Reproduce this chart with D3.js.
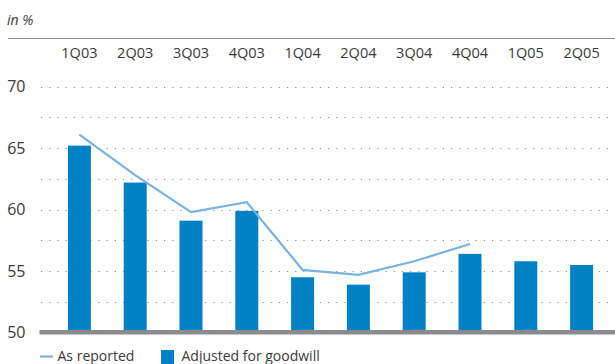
<!DOCTYPE html>
<html>
<head>
<meta charset="utf-8">
<script src="https://cdn.jsdelivr.net/npm/d3@7/dist/d3.min.js"></script>
<style>
  html, body { margin: 0; padding: 0; background: #fff; }
  svg { display: block; font-family: "Open Sans", "Noto Sans", sans-serif; }
</style>
</head>
<body>
<svg id="chart" width="615" height="364"></svg>
<script>
// Quarters shown along the top
const quarters = ["1Q03", "2Q03", "3Q03", "4Q03", "1Q04", "2Q04", "3Q04", "4Q04", "1Q05", "2Q05"];
// Cost/income ratio adjusted for goodwill (bars), in %
const adjusted = [65.2, 62.2, 59.1, 59.9, 54.5, 53.9, 54.9, 56.4, 55.8, 55.5];
// Cost/income ratio as reported (line), in %; available through 4Q04
const reportedQuarters = ["1Q03", "2Q03", "3Q03", "4Q03", "1Q04", "2Q04", "3Q04", "4Q04"];
const reported = [66.1, 62.8, 59.8, 60.6, 55.1, 54.7, 55.8, 57.2];
// Value axis ticks
const yTicks = [50, 55, 60, 65, 70];
const gridTicks = [52.5, 55, 57.5, 60, 62.5, 65, 67.5, 70];

const svg = d3.select("#chart");
const W = 615;

const textColor = "#3a3a3a";
const barColor = "#0081c6";
const lineColor = "#7ab3e0";

const y = d3.scaleLinear().domain([50, 70]).range([332.6, 86.6]);

// Bar positions
const x = d3.scaleBand().domain(quarters).range([51.5, 609.5]).paddingInner(0.588).paddingOuter(0.294);
const cx = q => x(q) + x.bandwidth() / 2;

// Header: unit and rule
svg.append("text").attr("x", 7).attr("y", 25)
  .attr("font-size", 14).attr("font-style", "italic").attr("fill", textColor).text("in %");
svg.append("line").attr("x1", 8).attr("x2", W).attr("y1", 38.5).attr("y2", 38.5)
  .attr("stroke", "#8c8c8c").attr("stroke-width", 1);

// Quarter labels above the plot
svg.append("g").selectAll("text").data(quarters).join("text")
  .attr("x", d => cx(d))
  .attr("y", 57.5)
  .attr("text-anchor", "middle")
  .attr("font-size", 14.5)
  .attr("fill", textColor)
  .text(d => d);

// Dotted grid
svg.append("g").selectAll("line").data(gridTicks).join("line")
  .attr("x1", 41).attr("x2", W)
  .attr("y1", d => Math.round(y(d)) + 0.5).attr("y2", d => Math.round(y(d)) + 0.5)
  .attr("stroke", "#8f8f8f").attr("stroke-width", 1)
  .attr("stroke-dasharray", "1.2,7");

// Value axis labels
svg.append("g").selectAll("text").data(yTicks).join("text")
  .attr("x", 25.5).attr("y", d => y(d) + 5.8)
  .attr("text-anchor", "end")
  .attr("font-size", 16)
  .attr("fill", textColor)
  .text(d => d);

// Bars
svg.append("g").selectAll("rect").data(adjusted).join("rect")
  .attr("x", (d, i) => x(quarters[i]))
  .attr("width", x.bandwidth())
  .attr("y", d => y(d))
  .attr("height", d => y(50) - y(d))
  .attr("fill", barColor);

// Base axis
svg.append("rect").attr("x", 39.5).attr("y", 330).attr("width", W - 39.5).attr("height", 4.5)
  .attr("fill", "#8b8b8f");

// As-reported line
const line = d3.line()
  .x((d, i) => cx(reportedQuarters[i]))
  .y(d => y(d));
svg.append("path").datum(reported)
  .attr("d", line)
  .attr("fill", "none")
  .attr("stroke", lineColor)
  .attr("stroke-width", 2.2)
  .attr("stroke-linejoin", "miter");

// Legend
svg.append("line").attr("x1", 40).attr("x2", 53).attr("y1", 356.5).attr("y2", 356.5)
  .attr("stroke", lineColor).attr("stroke-width", 2.2);
svg.append("text").attr("x", 57.5).attr("y", 360.5).attr("font-size", 14).attr("fill", textColor).text("As reported");
svg.append("rect").attr("x", 161).attr("y", 350).attr("width", 13).attr("height", 14).attr("fill", barColor);
svg.append("text").attr("x", 181.5).attr("y", 360.5).attr("font-size", 14).attr("fill", textColor).text("Adjusted for goodwill");
</script>
</body>
</html>
